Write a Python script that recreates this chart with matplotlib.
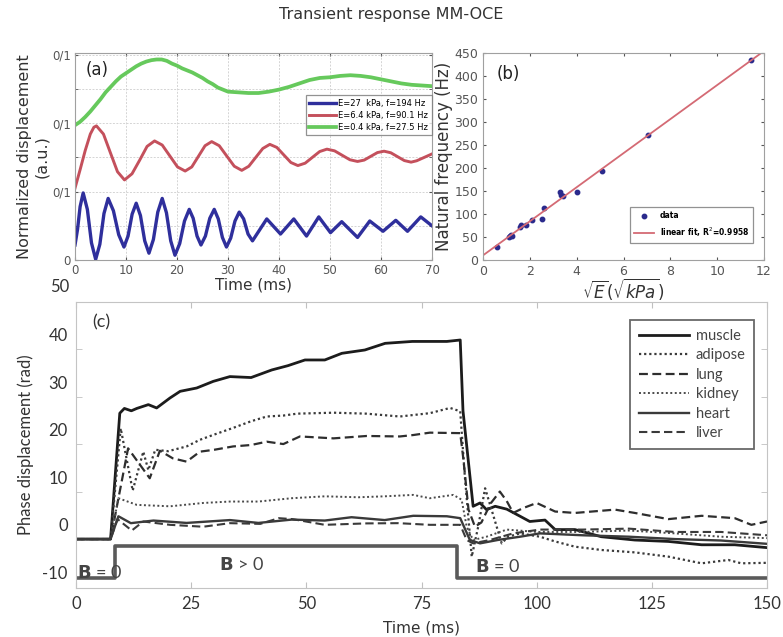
import numpy as np
import matplotlib
matplotlib.use("Agg")
import matplotlib.pyplot as plt

plt.rcParams["axes.unicode_minus"] = False

# ---- (a) normalised displacement
blue_t = [0, 0.5, 1.0, 1.6, 2.42, 3.23, 4.05, 4.87, 5.68, 6.5, 7.53, 8.57, 9.6, 10.4, 11.2,
          12.0, 12.83, 13.67, 14.5, 15.37, 16.23, 17.1, 17.93, 18.77, 19.6, 20.53, 21.47,
          22.4, 23.17, 23.93, 24.7, 25.57, 26.43, 27.3, 28.1, 28.9, 29.7, 30.53, 31.37,
          32.2, 33.07, 33.93, 34.8, 37.6, 40.3, 42.9, 45.4, 47.8, 50.1, 52.3, 55.4, 57.8,
          60.4, 62.9, 65.2, 67.8, 70]
blue_v = [0.22, 0.45, 0.78, 0.98, 0.74, 0.25, 0.01, 0.23, 0.68, 0.90, 0.72, 0.37, 0.19, 0.35,
          0.67, 0.83, 0.65, 0.28, 0.10, 0.30, 0.70, 0.90, 0.69, 0.28, 0.07, 0.24, 0.57,
          0.74, 0.61, 0.35, 0.22, 0.35, 0.61, 0.74, 0.60, 0.33, 0.19, 0.32, 0.57,
          0.70, 0.60, 0.38, 0.28, 0.60, 0.38, 0.60, 0.35, 0.63, 0.40, 0.56, 0.33, 0.57,
          0.42, 0.58, 0.42, 0.63, 0.50]
red_t = [0, 1, 2, 3, 3.7, 4.2, 5.58, 6.95, 8.33, 9.7, 11.18, 12.65, 14.13, 15.6, 17.1, 18.6,
         20.1, 21.6, 22.9, 24.2, 25.5, 26.8, 28.28, 29.75, 31.23, 32.7, 34.08, 35.45, 36.83,
         38.2, 39.58, 40.95, 42.33, 43.7, 45.13, 46.55, 47.98, 49.4, 50.9, 52.4, 53.9, 55.4,
         56.7, 58, 59.3, 60.6, 61.93, 63.25, 64.58, 65.9, 67, 68.5, 70]
red_v = [1.05, 1.32, 1.60, 1.84, 1.94, 1.96, 1.84, 1.565, 1.29, 1.17, 1.26, 1.455, 1.66, 1.74,
         1.68, 1.52, 1.36, 1.30, 1.36, 1.515, 1.67, 1.73, 1.67, 1.52, 1.37, 1.31, 1.37, 1.50,
         1.63, 1.69, 1.645, 1.535, 1.425, 1.38, 1.415, 1.50, 1.585, 1.62, 1.595, 1.53, 1.465,
         1.44, 1.46, 1.515, 1.57, 1.59, 1.567, 1.51, 1.453, 1.43, 1.45, 1.50, 1.55]
green_t = [0, 1, 2, 3, 4, 5, 6, 7, 8, 9, 10, 11, 12, 13, 14, 15, 16, 17, 18, 19, 20, 21, 22,
           23, 24, 25, 26, 27, 28, 29, 30, 32, 34, 36, 38, 40, 42, 44, 46, 48, 50, 52, 54,
           56, 58, 60, 62, 64, 66, 68, 70]
green_v = [1.97, 2.02, 2.09, 2.17, 2.26, 2.35, 2.45, 2.53, 2.61, 2.68, 2.73, 2.78, 2.83, 2.87,
           2.90, 2.92, 2.93, 2.93, 2.91, 2.87, 2.84, 2.80, 2.77, 2.74, 2.70, 2.66, 2.61, 2.57,
           2.52, 2.49, 2.46, 2.45, 2.44, 2.44, 2.46, 2.49, 2.53, 2.58, 2.63, 2.66, 2.67, 2.69,
           2.70, 2.69, 2.67, 2.64, 2.61, 2.58, 2.56, 2.55, 2.54]
a_labels = ["E=27  kPa, f=194 Hz", "E=6.4 kPa, f=90.1 Hz", "E=0.4 kPa, f=27.5 Hz"]

# ---- (b) natural frequency vs sqrt(E)
sqrtE = [0.6, 1.1, 1.15, 1.2, 1.25, 1.6, 1.62, 1.85, 2.1, 2.5, 2.6, 3.3, 3.35, 3.4, 4.0,
         5.1, 7.05, 11.45]
freq = [28, 50, 52, 55, 53, 72, 77, 76, 87, 90, 112, 147, 142, 140, 148, 193, 271, 434]

# ---- (c) phase displacement per tissue
muscle_t = [0, 7.5, 9.5, 10.5, 12, 13.2, 15.7, 17.5, 20.4, 22.6, 26.2, 29.8, 33.4, 38, 42.5,
            46, 49.7, 54, 57.7, 62.7, 67.1, 73, 80.5, 83.4, 84, 86.2, 87.7, 89.1, 91, 93.5,
            96.4, 98.5, 101.8, 104, 108.3, 114, 121.3, 128.6, 135.8, 143, 150]
muscle_v = [-3, -3, 23.5, 24.5, 24, 24.5, 25.3, 24.6, 26.7, 28.1, 28.8, 30.2, 31.2, 31, 32.6,
            33.5, 34.7, 34.7, 36.1, 36.8, 38.2, 38.6, 38.6, 38.9, 24, 3.9, 4.6, 3.2, 3.9, 3.3,
            1.8, 0.7, 1.0, -1.0, -1.0, -2.5, -3.2, -3.5, -4.2, -4.2, -4.8]
adipose_t = [0, 7.5, 9.7, 12.3, 14.6, 15.7, 17.2, 20, 24, 26.9, 30, 34.1, 38, 41.4, 45, 48,
             55.9, 63, 70.3, 76.8, 81.2, 83.4, 84.4, 85.9, 87.3, 88.8, 90.2, 92.4, 93.8,
             96.4, 100.7, 104, 108.3, 114.1, 121.3, 128.6, 135.8, 141.6, 144.4, 150]
adipose_v = [-3, -3, 20.3, 7.2, 15.4, 11.5, 15.8, 15.5, 16.5, 17.9, 19.0, 20.4, 21.8, 22.8,
             23.0, 23.4, 23.6, 23.4, 22.8, 23.5, 24.6, 23.9, 10.2, -6.7, -0.4, 7.7, 3.2, -3.9,
             -2.5, -1.8, -2.5, -3.5, -4.6, -5.3, -5.8, -6.7, -8.1, -7.4, -8.1, -8.0]
lung_t = [0, 7.5, 11.3, 16, 18.2, 21, 24, 26.9, 30, 34.1, 38, 41.4, 45, 48.6, 55.9, 63.1,
          70.3, 73.2, 76.8, 83.4, 84.1, 85.2, 86.6, 88, 90, 92, 93.5, 94.9, 97, 100, 104,
          108.3, 117, 121.3, 128.6, 135.8, 143, 146.6, 150]
lung_v = [-3, -3, 16.1, 9.8, 15.6, 14.0, 13.3, 15.4, 15.8, 16.5, 16.8, 17.5, 17.0, 18.6, 18.2,
          18.7, 18.6, 18.9, 19.4, 19.3, 13.7, 3.2, -0.4, 0.5, 4.5, 7.0, 5.0, 2.5, 3.5, 4.6,
          2.8, 2.5, 3.2, 2.5, 1.2, 1.9, 1.4, 0.0, 0.7]
kidney_t = [0, 7.5, 9.2, 13.2, 20.4, 27.6, 33.4, 39.6, 46.8, 54, 61.3, 67, 73.2, 76.8, 81.9,
            83.7, 84.8, 86.2, 89.1, 93.5, 100, 110, 120, 130, 140, 150]
kidney_v = [-3, -3, 5.6, 4.2, 3.9, 4.6, 4.9, 4.9, 5.6, 6.0, 5.8, 6.0, 6.3, 5.6, 6.3,
            5.3, -0.4, -3.2, -2.5, -1.0, -1.5, -1.5, -1.2, -1.8, -2.5, -2.8]
heart_t = [0, 7.5, 9.2, 11.9, 16.8, 24, 33.4, 39.6, 46.8, 54, 59.8, 67, 73.2, 80.5, 83.4,
           85.5, 87.7, 91.5, 96.4, 100.7, 110, 120, 130, 140, 150]
heart_v = [-3, -3, 1.8, 0.35, 0.9, 0.4, 1.0, 0.4, 1.1, 0.9, 1.6, 1.0, 1.9, 1.8, 1.4,
           -3.2, -3.9, -3.2, -2.5, -1.8, -2.2, -2.5, -3.0, -3.3, -4.0]
liver_t = [0, 7.5, 9.0, 12.1, 14.6, 20.4, 27.6, 33.4, 40, 44, 47, 54, 63, 70, 76.8, 83.4,
           84.8, 86.2, 89.8, 94.9, 100.7, 110, 120, 130, 140, 150]
liver_v = [-3, -3, 1.2, -1.2, 0.7, 0.0, -0.4, 0.35, 0.2, 1.4, 1.2, 0.0, 0.3, 0.35, 0.0, 0.0,
           -3.2, -3.9, -3.2, -1.8, -1.0, -1.0, -0.8, -1.5, -1.5, -2.2]
tissues = ["muscle", "adipose", "lung", "kidney", "heart", "liver"]
B_t = [0, 8.5, 82.8, 150]
B_level = [-11.1, -4.4, -11.1, -11.1]

CF = "Lato"  # closest to the Calibri-like lettering of panel (c)

fig = plt.figure(figsize=(7.83, 6.37), dpi=100)
fig.text(0.5, 0.978, "Transient response MM-OCE", ha="center", va="center",
         fontsize=11.5, color="#333333")

# ---------------- (a)
axa = fig.add_axes([0.0958, 0.5918, 0.4559, 0.3245])
axa.plot(blue_t, blue_v, color="#2f2f9c", lw=2.4, label=a_labels[0])
axa.plot(red_t, red_v, color="#c4505c", lw=2.1, label=a_labels[1])
axa.plot(green_t, green_v, color="#66c95c", lw=2.7, label=a_labels[2])
axa.set_xlim(0, 70); axa.set_ylim(0, 3.02)
axa.set_xticks(range(0, 71, 10))
axa.set_yticks([0, 1, 2, 3]); axa.set_yticklabels(["0", "0/1", "0/1", "0/1"])
axa.set_yticks([0.5, 1.5, 2.5], minor=True)
axa.grid(True, which="both", color="#d4d4d4", lw=0.7, ls=(0, (2, 1.5)))
axa.tick_params(which="both", direction="in", length=2, labelsize=8.5, colors="#555555",
                top=True, right=True, pad=3)
for s in axa.spines.values():
    s.set_color("#a0a0a0")
axa.set_xlabel("Time (ms)", fontsize=11, labelpad=0, color="#333333")
axa.set_ylabel("Normalized displacement\n(a.u.)", fontsize=11.5, color="#333333",
               linespacing=1.2)
axa.yaxis.set_label_coords(-0.072, 0.5)
axa.text(0.03, 0.92, "(a)", transform=axa.transAxes, fontsize=12, va="center", color="#222222")
leg = axa.legend(loc="lower left", bbox_to_anchor=(0.635, 0.585), fontsize=6,
                 handlelength=3.2, frameon=True, fancybox=False, borderpad=0.4,
                 labelspacing=0.35, handletextpad=0.3)
leg.get_frame().set_edgecolor("#777777"); leg.get_frame().set_linewidth(0.9)

# ---------------- (b)
axb = fig.add_axes([0.6169, 0.5918, 0.3588, 0.3250])
k, b = np.polyfit(sqrtE, freq, 1)
fx = np.array([0, 12])
axb.plot(sqrtE, freq, "o", ms=3.2, color="#2a2a8c", label="data")
axb.plot(fx, k * fx + b, color="#d46a74", lw=1.3, label=r"linear fit, R$^2$=0.9958")
axb.set_xlim(0, 12); axb.set_ylim(0, 450)
axb.set_xticks(range(0, 13, 2)); axb.set_yticks(range(0, 451, 50))
axb.tick_params(direction="in", length=2.5, labelsize=9, colors="#555555", top=True, right=True)
for s in axb.spines.values():
    s.set_color("#a0a0a0")
axb.set_xlabel(r"$\sqrt{E}(\sqrt{kPa})$", fontsize=12, labelpad=-1, color="#333333")
axb.set_ylabel("Natural frequency (Hz)", fontsize=12, labelpad=1, color="#333333")
axb.text(0.05, 0.9, "(b)", transform=axb.transAxes, fontsize=12, va="center", color="#222222")
lb = axb.legend(loc="lower right", bbox_to_anchor=(0.975, 0.065), fontsize=5.5, frameon=True,
                fancybox=False, handlelength=2.6, borderpad=0.5, labelspacing=0.7,
                handletextpad=0.8)
lb.get_frame().set_edgecolor("#777777"); lb.get_frame().set_linewidth(0.9)
for t in lb.get_texts():
    t.set_fontweight("bold")

# ---------------- (c)
axc = fig.add_axes([0.0971, 0.0769, 0.8825, 0.4490])
styles = {
    "muscle": dict(color="#1c1c1c", lw=2.0, ls="-"),
    "adipose": dict(color="#3a3a3a", lw=1.6, ls=(0, (1, 1.3))),
    "lung": dict(color="#2e2e2e", lw=1.6, ls=(0, (4, 2))),
    "kidney": dict(color="#4a4a4a", lw=1.4, ls=(0, (1, 1.3))),
    "heart": dict(color="#3a3a3a", lw=1.7, ls="-"),
    "liver": dict(color="#3a3a3a", lw=1.5, ls=(0, (4, 2))),
}
series = {"muscle": (muscle_t, muscle_v), "adipose": (adipose_t, adipose_v),
          "lung": (lung_t, lung_v), "kidney": (kidney_t, kidney_v),
          "heart": (heart_t, heart_v), "liver": (liver_t, liver_v)}
for name in tissues:
    t, v = series[name]
    axc.plot(t, v, label=name, **styles[name])
axc.plot(B_t, B_level, drawstyle="steps-post", color="#5a5a5a", lw=2.6)
axc.set_xlim(0, 150); axc.set_ylim(-13.3, 46.9)
axc.set_xticks(range(0, 151, 25))
axc.set_yticks(range(-10, 41, 10))
axc.set_yticks([7, 17, 27, 37], minor=True)
axc.tick_params(axis="x", direction="in", length=4, labelsize=12, colors="#c0c0c0",
                labelcolor="#333333", top=True, pad=6)
axc.tick_params(axis="y", which="major", length=0, labelsize=12, labelcolor="#333333", pad=6)
axc.tick_params(axis="y", which="minor", direction="in", length=4, colors="#c0c0c0",
                left=True, right=True)
for lab in axc.get_xticklabels() + axc.get_yticklabels():
    lab.set_family(CF)
axc.text(-0.009, 50, "50", transform=axc.get_yaxis_transform(), ha="right", va="center",
         fontsize=12, family=CF, color="#333333", clip_on=False)
for s in axc.spines.values():
    s.set_color("#c4c4c4")
axc.set_xlabel("Time (ms)", fontsize=11, labelpad=6, color="#333333")
axc.set_ylabel("Phase displacement (rad)", fontsize=12, family=CF, labelpad=6, color="#333333")
axc.text(0.023, 0.93, "(c)", transform=axc.transAxes, fontsize=13, family=CF, va="center",
         color="#333333")
for x, y, s, ha in [(0.3, -10.1, "B = 0", "left"), (36, -8.4, "B > 0", "center"),
                    (91.6, -8.8, "B = 0", "center")]:
    axc.text(x, y, r"$\mathbf{B}$" + s[1:], fontsize=13, family=CF, va="center", ha=ha,
             color="#444444")
lc = axc.legend(loc="upper left", bbox_to_anchor=(0.802, 0.937), frameon=True,
                prop={"family": CF, "size": 10.5}, fancybox=False, handlelength=3.4,
                borderpad=0.6, labelspacing=0.38, handletextpad=0.5, borderaxespad=0)
lc.get_frame().set_edgecolor("#444444"); lc.get_frame().set_linewidth(1.3)
for t in lc.get_texts():
    t.set_color("#444444")

fig.savefig("out.png", dpi=100)
